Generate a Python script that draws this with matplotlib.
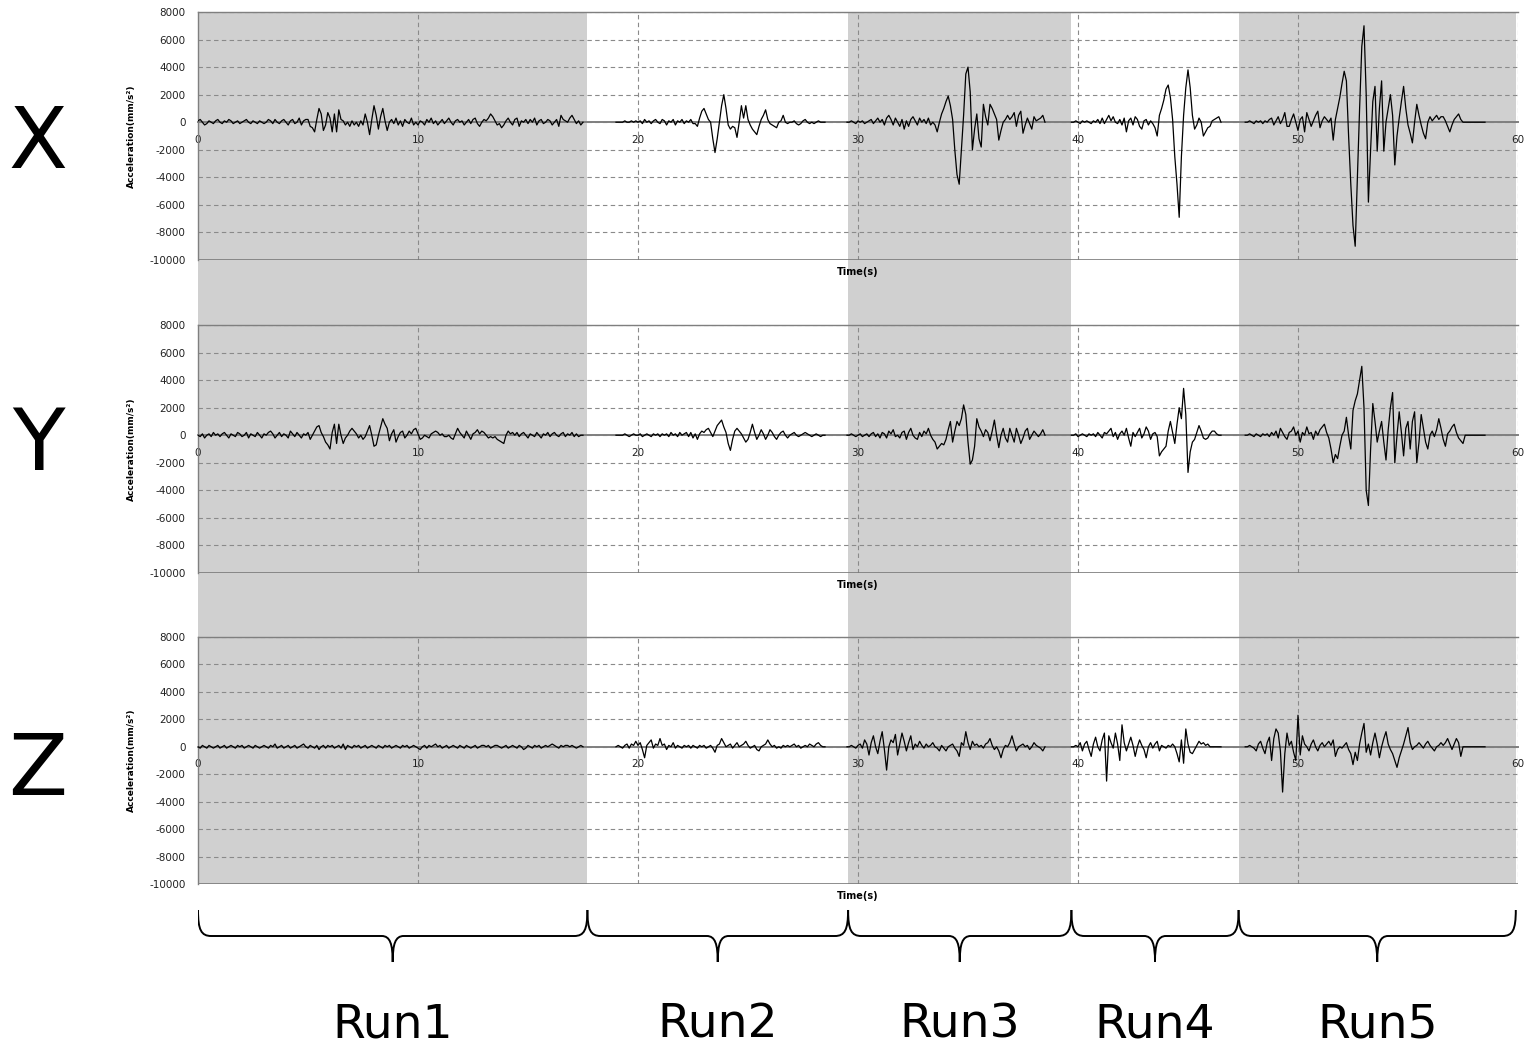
import numpy as np
import matplotlib

matplotlib.use("Agg")
import matplotlib.pyplot as plt
import matplotlib.transforms as mtransforms
from matplotlib.patches import PathPatch, Rectangle
from matplotlib.path import Path

W, H = 1533, 1049

# ── data ─────────────────────────────────────────────────────────────────────
DT = 0.1          # s between samples
UNIT = 100        # listed values are in units of 100 mm/s^2

RUN_NAMES = ["Run1", "Run2", "Run3", "Run4", "Run5"]
RUN_EDGES = [0.0, 17.7, 29.55, 39.7, 47.3, 59.9]   # s
RUN_SHADED = [True, False, True, False, True]
SEG_START = [0.0, 19.0, 29.5, 39.7, 47.6]           # first sample of each run (s)

X_RUN1 = [1, 2, 0, -2, -1, 1, 0, -1, 1, 2,
          0, -1, 1, 0, 2, 1, -1, 0, 1, -1,
          0, 1, 2, 0, -1, 1, 0, -1, 1, 0,
          -1, 0, 2, 1, -1, 2, 0, -1, 1, 2,
          0, -2, 1, 2, -1, 0, 3, -2, 1, 2,
          2, -3, -4, -7, 2, 10, 6, -6, -2, 7,
          3, -7, 6, -7, 9, 2, 1, -2, 0, -3,
          1, -2, 0, -3, 1, -2, 6, 0, -9, 2,
          12, 5, -5, 4, 10, 1, -6, 0, 2, -1,
          3, -2, 1, -3, 2, 0, -1, 3, -2, 0,
          -2, 1, 0, -2, 2, 0, 3, -1, 1, -2,
          0, 2, -1, 1, 3, 0, -2, 1, 2, 0,
          1, -2, 0, 2, -1, 2, 3, -1, -3, 0,
          2, 1, 3, 6, 4, 1, -2, -1, -4, -2,
          1, 3, 0, -2, 2, 3, -3, 1, 0, 2,
          -1, 2, 0, 3, -2, 1, 2, -1, 0, 2,
          1, -2, 0, 2, -3, 5, 2, 1, 0, 3,
          5, 2, -1, 1, -2, 0]
X_RUN2 = [0, 0, 0, 0, 1, 0, 0, 1, 0, 1,
          0, 1, -1, 2, 0, 1, -1, 1, 2, 0,
          -1, 2, 1, -2, 1, 0, 2, -2, 1, 0,
          2, -1, 1, 0, 2, -1, -1, -3, 3, 8,
          10, 6, 2, 0, -12, -22, -12, 0, 12, 20,
          10, -2, -5, -3, -4, -11, 0, 12, 3, 12,
          2, -2, -5, -7, -9, -3, 2, 5, 9, 2,
          -1, -2, -3, -4, 0, 1, 5, 0, -1, 0,
          0, 1, -1, -2, -1, 1, 2, 0, -1, 0,
          -1, 0, 1, 0, 0, 0]
X_RUN3 = [0, 0, 1, 0, -1, 1, 0, 1, -1, 0,
          1, 2, -1, 1, 3, 0, 2, -2, 3, 5,
          2, -2, 3, 0, -3, 2, -5, 1, -3, 2,
          4, 1, -2, 3, 0, 2, -1, 3, -2, 0,
          -2, -7, 0, 6, 10, 15, 19, 12, 2, -20,
          -38, -45, -20, 5, 35, 40, 22, -20, -5, 6,
          -12, -18, 13, 4, -2, 13, 10, 6, 2, -13,
          -6, 0, 2, 5, 2, 4, 7, -3, 5, 8,
          -8, -2, 3, -1, -5, 4, 1, 2, 3, 5, 0]
X_RUN4 = [0, 0, 1, 0, -1, 1, 0, 1, 0, -1,
          1, 0, 2, -1, 3, -1, 2, 5, 1, 4,
          0, -1, 2, -2, 3, -7, 1, 3, -2, 4,
          2, -3, -5, 1, 2, -2, 1, -1, -4, -10,
          5, 10, 16, 24, 27, 18, 2, -25, -45, -69,
          -25, 5, 25, 38, 25, 5, -5, -2, 3, 0,
          -10, -7, -4, -3, 1, 2, 3, 4, 0]
X_RUN5 = [0, 0, 1, 0, -1, 1, 0, 1, -1, 1,
          0, 2, 3, -2, 1, 4, -1, 2, 7, -3,
          -3, 2, 6, 0, -6, 2, 4, -7, 7, 2,
          -3, 1, 5, 8, -4, 1, 4, 2, 0, 3,
          -13, 2, 10, 18, 28, 37, 30, -10, -45, -75,
          -90, -40, 10, 55, 70, 20, -58, -20, 15, 26,
          -21, 10, 30, -21, 0, 10, 20, 5, -31, -10,
          3, 15, 26, 10, -2, -8, -15, 0, 13, 5,
          -2, -8, -12, 0, 4, 1, 3, 5, 2, 4,
          4, 1, -3, -7, -2, 2, 4, 6, 2, 0,
          0, 0, 0, 0, 0, 0, 0, 0, 0, 0]

Y_RUN1 = [0, -1, 1, -2, 0, 1, -1, 2, 0, 1,
          -1, 1, 2, 0, -2, 1, 0, -1, 2, 1,
          -1, 0, 2, -2, 1, 0, -1, 2, 0, -2,
          1, 0, 2, 3, 1, -2, 0, 2, -1, 1,
          0, -2, 3, 1, -1, 2, 0, -2, 1, 0,
          2, -3, 0, 3, 6, 7, 2, -1, -5, -7,
          -10, 2, 8, -6, 8, 0, -6, -2, 0, 3,
          5, 3, 1, -2, 0, -3, -1, 3, 7, 0,
          -8, -7, 0, 6, 12, 8, 5, -4, 1, 4,
          -5, -1, 2, 3, -2, 0, 3, 1, 4, 5,
          1, -3, -2, 0, -1, -2, 1, 2, 3, 2,
          0, 1, -1, -1, 0, -2, -3, 1, 5, 2,
          0, -2, 3, 0, -3, 1, 2, 4, 1, 3,
          2, 0, -2, -1, -2, -1, -3, -4, -5, -6,
          0, 3, 1, 2, 0, 2, -1, 1, 2, 0,
          -2, 1, 0, -1, 2, 0, -2, 1, 0, 2,
          -1, 1, 2, 0, -1, 1, 2, -1, 1, 0,
          2, -1, 1, -1, 0, 0]
Y_RUN2 = [0, 0, 0, 0, 1, 0, -1, 0, 1, 0,
          0, 1, -1, 0, 1, 0, -1, 1, 0, 1,
          -1, 1, 0, 1, -1, 2, 0, 1, -1, 2,
          0, 1, 2, -1, 2, -2, 1, -3, 1, 3,
          2, 4, 5, 2, -1, 3, 7, 9, 11, 6,
          2, -6, -11, -3, 3, 5, 3, 1, -2, -5,
          -3, 2, 8, 2, -3, 0, 4, 1, -3, 0,
          4, 2, -1, -3, 0, 2, 3, 0, -2, 0,
          1, 2, 0, -1, 0, 1, 2, 1, 0, -1,
          0, 1, 0, -1, 0, 0]
Y_RUN3 = [0, 0, 1, 0, -1, 0, 1, -1, 0, 1,
          -1, 1, 2, -1, 1, -2, 2, 1, -2, 3,
          1, 4, -1, 0, -2, 2, 3, -3, 2, 5,
          0, -2, -3, 2, -1, 3, 1, 5, 0, -3,
          -5, -10, -8, -6, -7, -3, 4, 10, -5, 3,
          10, 7, 12, 22, 15, -5, -21, -18, -8, 12,
          6, 3, -1, 4, 2, -4, 3, 11, 0, -9,
          0, 5, -2, -5, 5, 0, -5, 5, 0, -6,
          -2, 3, 5, -3, 0, 3, 1, -1, 1, 4, 0]
Y_RUN4 = [0, 0, 1, -1, 0, 1, 0, -1, 1, 0,
          1, -1, 2, 0, -2, 2, 1, 3, 5, -1,
          2, -3, 1, 3, 0, 5, -2, -8, 2, -1,
          2, 5, -2, 1, 6, 3, -3, 1, 2, -1,
          -15, -12, -10, -8, 3, 10, 2, -6, 8, 20,
          12, 34, 15, -27, -12, -5, -3, 2, 7, 3,
          -2, -3, -2, 1, 3, 3, 1, 0, 0]
Y_RUN5 = [0, 0, 1, 0, -1, 1, 0, -1, 1, 0,
          1, -1, 2, 0, 3, -2, 5, 2, -1, -3,
          2, 3, 6, 0, 3, -5, 2, 0, 6, 1,
          2, -3, 3, 0, 4, 6, 8, 2, -2, -10,
          -20, -14, -17, -8, 0, 3, 13, 0, -10, 18,
          25, 30, 40, 50, 20, -40, -51, -10, 23, 10,
          -5, 3, 10, -5, -18, 4, 20, 31, -20, 0,
          17, 2, -15, 5, 10, -10, 10, 17, -20, -5,
          15, 5, -5, -10, 0, 3, -1, 4, 12, 5,
          -3, -8, 1, 3, 6, 8, 2, -2, -4, -6,
          0, 0, 0, 0, 0, 0, 0, 0, 0, 0]

Z_RUN1 = [0, -1, 1, 0, -1, 1, 0, -1, 0, 1,
          -1, 0, 1, -1, 0, 1, 0, -1, 1, 0,
          1, -1, 0, 1, 0, -1, 1, 0, -1, 0,
          1, 0, -1, 1, 0, 2, -1, 0, 1, -1,
          0, 1, -1, 0, 1, -1, 0, 1, 2, 0,
          -1, 1, 0, -1, 1, -2, 0, 1, -1, 1,
          0, 1, -1, 0, 1, -1, 2, -2, 1, 0,
          -1, 1, 0, 1, -1, 0, 1, -1, 0, 1,
          0, -1, 1, 0, -1, 1, 0, 1, -1, 0,
          1, 0, -1, 1, 0, 1, -1, 0, 1, 0,
          -1, -2, 0, 1, -1, 1, 0, 1, 2, 0,
          1, -1, 0, 1, -1, 0, 1, 0, -1, 1,
          0, -1, 1, 0, -1, 0, 1, -1, 0, 1,
          1, 0, 1, -1, 0, 1, 1, 0, -1, 0,
          1, -1, 0, 1, 0, -1, 1, 0, -2, -1,
          1, 0, -1, 1, 0, 1, -1, 0, 1, 0,
          1, 2, 1, 0, -1, 1, 0, 1, 1, 0,
          1, 0, -1, 0, 1, 0]
Z_RUN2 = [0, 1, 0, -1, 1, 2, -1, 2, 1, 4,
          1, 3, -2, -8, 1, 3, 5, -1, 2, 1,
          6, 1, 2, -2, 1, 0, 3, -1, 1, 0,
          -1, 1, 0, 1, -1, 1, 0, -1, 1, 0,
          1, -1, 0, 1, -1, -4, 1, 2, 6, 3,
          0, 1, 2, -1, 1, 3, 0, 1, 2, 4,
          1, -1, 0, 1, -2, -3, 0, 1, 2, 5,
          2, 0, 1, -1, 0, -1, 1, 0, 1, 0,
          1, 2, 0, 1, -1, 0, 1, 0, 2, 1,
          0, 2, 3, 1, 0, 0]
Z_RUN3 = [0, 0, 1, 0, -1, 1, 2, -1, 5, 2,
          -6, 3, 8, 0, -5, 4, 11, -2, -17, 0,
          5, 3, 9, -6, 2, 10, 4, -3, 3, 8,
          -2, 2, 0, 4, 1, -1, 2, 0, 1, 3,
          0, -1, -3, 1, -1, -3, 0, 1, 2, -1,
          -3, -7, 3, 1, 11, 3, -2, 4, 1, 2,
          0, 1, -1, 2, 3, 6, 1, -2, 0, -3,
          -8, -2, 1, 0, 3, 8, 2, -3, 0, 1,
          2, 0, 1, -2, 0, 3, 1, 0, -1, -3, 0]
Z_RUN4 = [0, 0, 1, 0, 3, -3, 2, 4, -2, -7,
          2, 7, 0, -3, 5, 10, -25, 8, 3, -1,
          10, 2, -10, 16, 3, -3, 2, 7, 1, -7,
          0, 5, 1, -2, -8, 0, 3, -1, 2, 4,
          -3, 1, 0, -1, 1, 0, 2, 0, -5, -11,
          5, -12, 13, 2, -4, -5, -2, 1, 4, 2,
          3, 1, 2, 0, 0, 0, 0, 0, 0]
Z_RUN5 = [0, 0, 1, 0, -1, -3, 2, 4, -1, -5,
          3, 7, -10, 6, 13, 10, -3, -33, -5, 10,
          1, 4, -4, -10, 23, -6, 8, 2, 0, -3,
          2, 5, 0, -3, 1, 3, 0, 2, 4, 1,
          5, -7, -2, 0, -1, 1, 3, -2, -5, -13,
          -4, -10, 2, 10, 17, -4, 2, -6, 3, 10,
          2, -8, 0, 6, 11, 2, -2, -5, -10, -15,
          -8, -3, 2, 8, 14, 3, -2, 0, 1, 3,
          1, -1, 2, 4, 1, -1, -3, 0, 1, 3,
          1, 3, 6, 2, -2, 2, 6, 3, -7, 0,
          0, 0, 0, 0, 0, 0, 0, 0, 0, 0]

PANEL_NAMES = ["X", "Y", "Z"]
PANEL_RUNS = [
    [X_RUN1, X_RUN2, X_RUN3, X_RUN4, X_RUN5],
    [Y_RUN1, Y_RUN2, Y_RUN3, Y_RUN4, Y_RUN5],
    [Z_RUN1, Z_RUN2, Z_RUN3, Z_RUN4, Z_RUN5],
]

Y_TICKS = list(range(-10000, 8001, 2000))
X_TICKS = [0, 10, 20, 30, 40, 50, 60]

# ── layout (pixel positions of the plot areas) ───────────────────────────────
AX_LEFT, AX_RIGHT = 198, 1518
AX_TOPS = [12, 325, 637]
AX_BOTTOMS = [260, 573, 884]
LETTER_BASE = [168, 470, 795]

GRID_C = "#8a8a8a"
BAND_C = "#d0d0d0"


def fx(px):
    return px / W


def fy(py):
    return 1 - py / H


plt.rcParams["font.family"] = "DejaVu Sans"
plt.rcParams["axes.unicode_minus"] = False
fig = plt.figure(figsize=(W / 100, H / 100), dpi=100)

axes = []
for i, name in enumerate(PANEL_NAMES):
    ax = fig.add_axes([fx(AX_LEFT), fy(AX_BOTTOMS[i]),
                       fx(AX_RIGHT - AX_LEFT), (AX_BOTTOMS[i] - AX_TOPS[i]) / H])
    ax.set_facecolor("none")
    ax.set_xlim(0, 60)
    ax.set_ylim(-10000, 8000)
    ax.set_yticks(Y_TICKS)
    ax.set_xticks(X_TICKS)

    # grid
    for yv in Y_TICKS[1:]:
        ax.axhline(yv, color=GRID_C, lw=0.8, ls=(0, (4, 3)), zorder=1)
    for xv in X_TICKS[1:]:
        ax.axvline(xv, color=GRID_C, lw=0.8, ls=(0, (4, 3)), zorder=1)
    ax.axhline(-10000, color="#7a7a7a", lw=1.2, zorder=2)

    # Excel-style axis crossing at zero
    ax.spines["bottom"].set_position(("data", 0))
    ax.spines["bottom"].set_color("#7f7f7f")
    ax.spines["bottom"].set_linewidth(1.4)
    ax.spines["bottom"].set_zorder(2)
    ax.spines["left"].set_color("#7f7f7f")
    ax.spines["left"].set_linewidth(1.0)
    ax.spines["top"].set_color("#7f7f7f")
    ax.spines["top"].set_linewidth(1.0)
    ax.spines["right"].set_visible(False)
    ax.tick_params(axis="both", length=0, labelsize=7.5, colors="#222222")
    ax.tick_params(axis="x", pad=9)
    ax.tick_params(axis="y", pad=9)

    for start, vals in zip(SEG_START, PANEL_RUNS[i]):
        t = start + DT * np.arange(len(vals))
        ax.plot(t, np.array(vals) * UNIT, color="black", lw=0.9, zorder=3)

    ax.set_ylabel("Acceleration(mm/s²)", fontsize=6.5, fontweight="bold")
    ax.yaxis.set_label_coords(-0.047, 0.5)
    ax.text(0.5, -0.048, "Time(s)", transform=ax.transAxes, ha="center",
            va="center", fontsize=7, fontweight="bold")

    fig.text(fx(38), fy(LETTER_BASE[i]), name, ha="center", va="baseline",
             fontsize=62)
    axes.append(ax)

# gray run bands behind all three panels
band_tr = mtransforms.blended_transform_factory(axes[0].transData, fig.transFigure)
y_lo = axes[2].get_position().y0
y_hi = axes[0].get_position().y1
for (a, b), shaded in zip(zip(RUN_EDGES[:-1], RUN_EDGES[1:]), RUN_SHADED):
    if shaded:
        fig.add_artist(Rectangle((a, y_lo), b - a, y_hi - y_lo, transform=band_tr,
                                 facecolor=BAND_C, edgecolor="none", zorder=-1))

# braces and run labels
bax = fig.add_axes([fx(AX_LEFT), 0, fx(AX_RIGHT - AX_LEFT), (H - 890) / H])
bax.set_xlim(0, 60)
bax.set_ylim(H, 890)
bax.axis("off")
Y_TOP, Y_ARM, Y_TIP = 910, 936, 962
for name, a, b in zip(RUN_NAMES, RUN_EDGES[:-1], RUN_EDGES[1:]):
    m = (a + b) / 2
    verts = [
        (a, Y_TOP), (a, Y_ARM - 6), (a + 0.15, Y_ARM), (a + 0.6, Y_ARM),
        (m - 0.5, Y_ARM),
        (m - 0.12, Y_ARM), (m, Y_ARM + 8), (m, Y_TIP),
        (m, Y_ARM + 8), (m + 0.12, Y_ARM), (m + 0.5, Y_ARM),
        (b - 0.6, Y_ARM),
        (b - 0.15, Y_ARM), (b, Y_ARM - 6), (b, Y_TOP),
    ]
    codes = [Path.MOVETO, Path.CURVE4, Path.CURVE4, Path.CURVE4,
             Path.LINETO,
             Path.CURVE4, Path.CURVE4, Path.CURVE4,
             Path.CURVE4, Path.CURVE4, Path.CURVE4,
             Path.LINETO,
             Path.CURVE4, Path.CURVE4, Path.CURVE4]
    bax.add_patch(PathPatch(Path(verts, codes), facecolor="none",
                            edgecolor="black", lw=1.4))
    bax.text(m, 1037, name, ha="center", va="baseline", fontsize=34)

fig.savefig("out.png", dpi=100)
